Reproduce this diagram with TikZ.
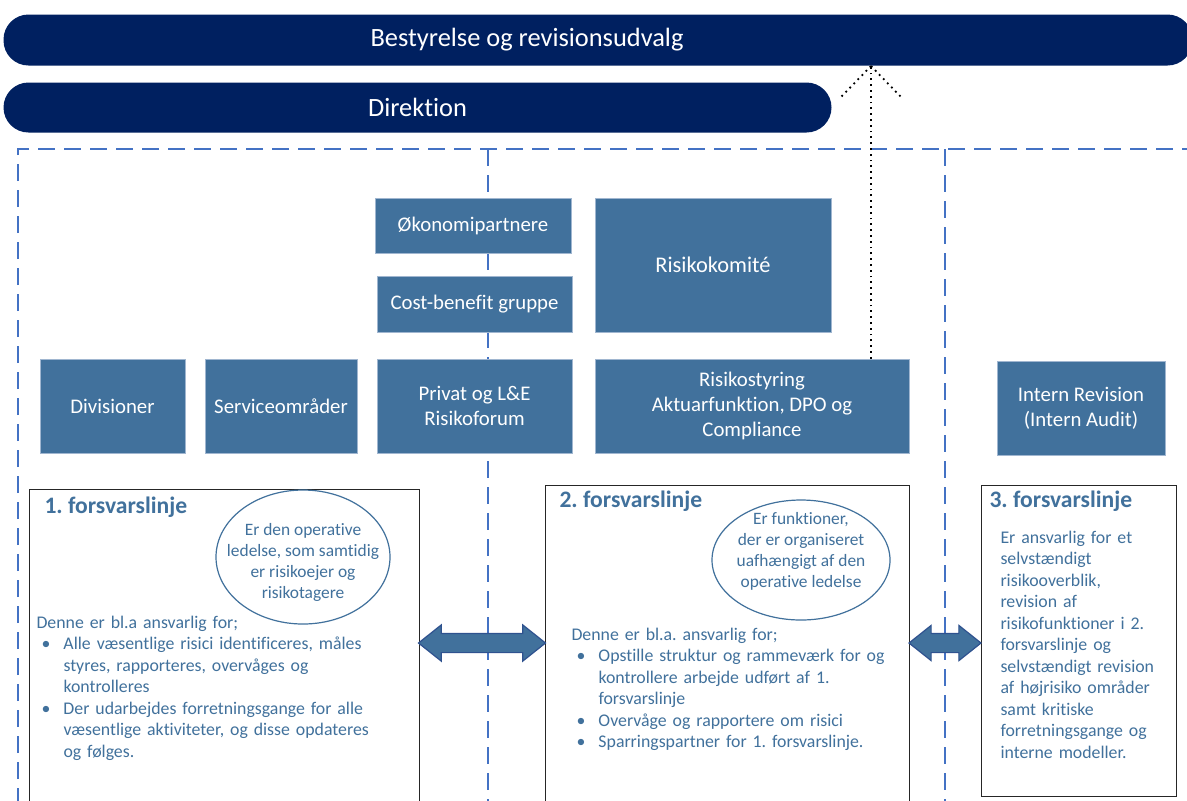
\documentclass[tikz,border=0pt]{standalone}
\usepackage{fontspec}
\setmainfont[RawFeature={-liga;-clig;-calt}]{Carlito}
\usetikzlibrary{shapes.geometric,shapes.arrows}

\definecolor{navy}{RGB}{0,32,96}
\definecolor{boxblue}{RGB}{65,113,156}
\definecolor{edgeblue}{RGB}{160,182,208}
\definecolor{zoneblue}{RGB}{68,114,196}
\definecolor{arrowedge}{RGB}{47,82,143}

% bullet and hanging indent for the lists
\newcommand{\bul}{\hspace*{2.5pt}\makebox[11pt][l]{\textbullet}}
\newcommand{\ind}{\hspace*{13.5pt}}

\begin{document}
\frenchspacing
\begin{tikzpicture}[x=0.5pt,y=-0.5pt,line width=0.5pt]

  \tikzset{
    pill/.style    = {fill=navy, rounded corners=12.5pt, text=white,
                      inner sep=0pt, anchor=north west,
                      font=\fontsize{13.2}{16}\selectfont},
    unit/.style    = {fill=boxblue, draw=edgeblue, text=white, align=center,
                      inner sep=0pt, font=\fontsize{10.4}{12.5}\selectfont},
    zone/.style    = {draw=zoneblue, line width=1pt,
                      dash pattern=on 8.5pt off 4.5pt},
    defbox/.style  = {draw=black!85, fill=white, line width=0.6pt,
                      inner sep=0pt, anchor=north west},
    head/.style    = {font=\fontsize{11.8}{14}\selectfont\bfseries,
                      text=boxblue, anchor=base west, inner sep=0pt},
    body/.style    = {font=\fontsize{8.9}{10.75}\selectfont, text=boxblue,
                      align=left, anchor=base west, inner sep=0pt},
    oval/.style    = {ellipse, draw=boxblue, fill=white, line width=0.6pt,
                      inner sep=0pt},
    ovaltxt/.style = {font=\fontsize{8.7}{10.5}\selectfont, text=boxblue,
                      align=center, inner sep=0pt},
    dbl/.style     = {double arrow, draw=arrowedge, fill=boxblue,
                      line width=0.6pt, inner xsep=0pt, inner ysep=4.5pt,
                      double arrow head extend=4.25pt,
                      double arrow tip angle=77},
    link/.style    = {dotted, line width=0.9pt, black},
  }

  \useasboundingbox (0,0) rectangle (1187,800);

  % ---- board and management ---------------------------------------------
  \node[pill, minimum width=594.5pt, minimum height=25.5pt] (board) at (3,14) {};
  \node[text=white, font=\fontsize{13.2}{16}\selectfont] (boardtxt) at (527,40)
    {Bestyrelse og revisionsudvalg};
  \node[pill, minimum width=414pt, minimum height=25pt] (dir) at (3,82) {Direktion};

  % ---- the three zones ---------------------------------------------------
  \draw[zone] (18,805) -- (18,149) -- (1195,149);
  \draw[zone] (488,149) -- (488,805);
  \draw[zone] (945,149) -- (945,805);

  % ---- functions ---------------------------------------------------------
  \node[unit, minimum width=98pt, minimum height=27.5pt] (oko) at (473,225.5)
    {Økonomipartnere};
  \node[unit, minimum width=97.5pt, minimum height=28pt] (cost) at (474.5,304)
    {Cost-benefit gruppe};
  \node[unit, minimum width=118pt, minimum height=67pt,
        font=\fontsize{11.2}{13.5}\selectfont] (komite) at (713,265) {Risikokomité};

  \foreach \n/\x/\w/\t in {div/112.5/72.5/Divisioner,
                           serv/281/76/Serviceområder,
                           privat/474.5/97.5/{Privat og L\&E\\Risikoforum},
                           risk/752/157/{Risikostyring\\Aktuarfunktion, DPO og\\Compliance}} {
    \node[unit, minimum width=\w pt, minimum height=47pt] (\n) at (\x,406) {\t};
  }
  \node[unit, minimum width=84pt, minimum height=47pt] (audit) at (1081,408)
    {Intern Revision\\(Intern Audit)};

  % reporting line up to the board
  \coordinate (riskup) at ([xshift=59.5pt]risk.north);
  \coordinate (tip) at (riskup |- board.south);
  \draw[link] (riskup) -- (tip);
  \draw[link] (tip) -- ++(-30,31) (tip) -- ++(30,31);

  % ---- lines of defence --------------------------------------------------
  \node[defbox, minimum width=195pt, minimum height=158pt] (l1) at (29,489) {};
  \node[defbox, minimum width=182pt, minimum height=160pt] (l2) at (545,485) {};
  \node[defbox, minimum width=97.5pt, minimum height=155.5pt] (l3) at (981,485) {};

  \node[head] (h1) at (44,513) {1. forsvarslinje};
  \node[head] (h2) at (559,507) {2. forsvarslinje};
  \node[head] (h3) at (989,507) {3. forsvarslinje};

  \node[oval, minimum width=87pt, minimum height=67pt] (e1) at (303,557) {};
  \node[ovaltxt] (e1txt) at (303,562)
    {Er den operative\\ledelse, som samtidig\\er risikoejer og\\risikotagere};
  \node[oval, minimum width=89pt, minimum height=60pt] (e2) at (801,560) {};
  \node[ovaltxt] (e2txt) at (801,551)
    {Er funktioner,\\der er organiseret\\uafhængigt af den\\operative ledelse};

  \node[body, text width=185pt] (b1) at (36,628)
    {Denne er bl.a ansvarlig for;\\
     \bul Alle væsentlige risici identificeres, måles\\
     \ind styres, rapporteres, overvåges og\\
     \ind kontrolleres\\
     \bul Der udarbejdes forretningsgange for alle\\
     \ind væsentlige aktiviteter, og disse opdateres\\
     \ind og følges.};

  \node[body, text width=170pt] (b2) at (571,640)
    {Denne er bl.a. ansvarlig for;\\
     \bul Opstille struktur og rammeværk for og\\
     \ind kontrollere arbejde udført af 1.\\
     \ind forsvarslinje\\
     \bul Overvåge og rapportere om risici\\
     \bul Sparringspartner for 1. forsvarslinje.};

  \node[body, text width=88pt] (b3) at (1000,543)
    {Er ansvarlig for et\\selvstændigt\\risikooverblik,\\revision af\\
     risikofunktioner i 2.\\forsvarslinje og\\selvstændigt revision\\
     af højrisiko områder\\samt kritiske\\forretningsgange og\\interne modeller.};

  % block arrows between the lines
  \node[dbl, minimum height=63.5pt] (a12) at (482,643) {};
  \node[dbl, minimum height=36pt, double arrow head extend=4pt] (a23) at (945,643) {};

\end{tikzpicture}
\end{document}
